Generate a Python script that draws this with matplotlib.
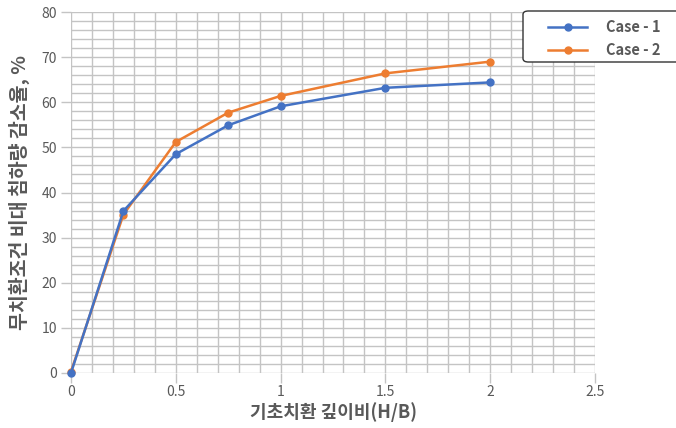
import numpy as np
import matplotlib
matplotlib.use('Agg')
import matplotlib.pyplot as plt
from matplotlib.ticker import MultipleLocator
from matplotlib.patches import FancyBboxPatch

plt.rcParams['font.family'] = ['Noto Sans CJK KR', 'DejaVu Sans']

# data
hb = [0, 0.25, 0.5, 0.75, 1.0, 1.5, 2.0]
case1 = [0.0, 35.9, 48.5, 54.9, 59.1, 63.2, 64.4]
case2 = [0.3, 35.1, 51.2, 57.7, 61.4, 66.4, 69.0]
labels = ['Case - 1', 'Case - 2']

grey = '#595959'
gridc = '#c4c4c4'
W, H = 676, 428

fig = plt.figure(figsize=(W/100, H/100), dpi=100)
ax = fig.add_axes([71/W, 1 - 373/H, (595 - 71)/W, (373 - 12)/H])

ax.plot(hb, case2, color='#ED7D31', lw=1.8, marker='o', ms=5, label=labels[1], clip_on=False, zorder=3)
ax.plot(hb, case1, color='#4472C4', lw=1.8, marker='o', ms=5, label=labels[0], clip_on=False, zorder=4)

ax.set_xlim(0, 2.5)
ax.set_ylim(0, 80)
ax.xaxis.set_major_locator(MultipleLocator(0.5))
ax.xaxis.set_minor_locator(MultipleLocator(0.1))
ax.yaxis.set_major_locator(MultipleLocator(10))
ax.yaxis.set_minor_locator(MultipleLocator(2))
ax.set_xticks([0, 0.5, 1, 1.5, 2, 2.5])
ax.set_xticklabels(['0', '0.5', '1', '1.5', '2', '2.5'])

ax.grid(True, which='both', color=gridc, lw=1.0)
ax.set_axisbelow(True)
for s in ax.spines.values():
    s.set_visible(False)
ax.tick_params(which='major', length=7, width=1, color=gridc, labelsize=10, labelcolor=grey, pad=3)
ax.tick_params(which='minor', length=0)
ax.tick_params(axis='x', pad=2)

ax.set_xlabel('기초치환 깊이비(H/B)', fontsize=13, fontweight='bold', color=grey, labelpad=2)
ax.set_ylabel('무치환조건 비대 침하량 감소율, %', fontsize=14, fontweight='bold', color=grey, labelpad=8)

# legend box running off the right edge
box = FancyBboxPatch((523/W, 1 - 62/H), 170/W, 51/H, boxstyle='round,pad=0,rounding_size=0.008',
                     transform=fig.transFigure, facecolor='white', edgecolor='#333333', lw=1.0, zorder=5)
fig.patches.append(box)
h, l = ax.get_legend_handles_labels()
leg = fig.legend(h[::-1], l[::-1], loc='upper left', bbox_to_anchor=(548/W, 1 - 19/H), frameon=False,
                 fontsize=10.5, handlelength=2.7, borderpad=0, labelspacing=0.5, handletextpad=1.3,
                 borderaxespad=0)
leg.set_zorder(6)
for t in leg.get_texts():
    t.set_color(grey)
    t.set_fontweight('bold')

fig.savefig('out.png', dpi=100)
